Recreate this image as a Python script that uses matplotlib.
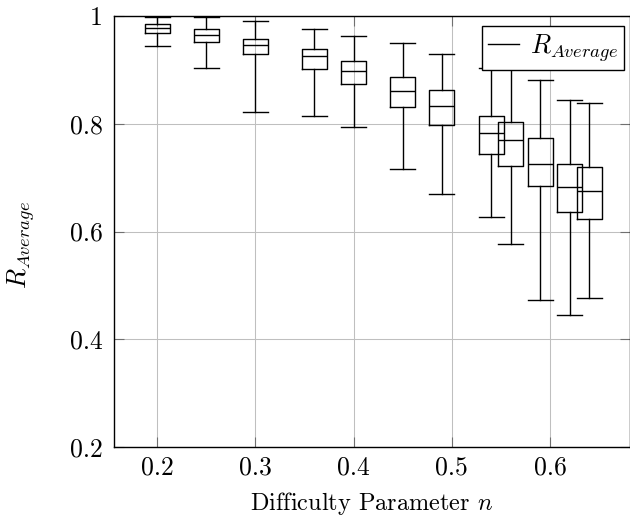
import matplotlib
matplotlib.use('Agg')

import matplotlib.pyplot as plt
from matplotlib.lines import Line2D

# box statistics
positions = [0.2, 0.25, 0.3, 0.36, 0.4, 0.45, 0.49, 0.54, 0.56, 0.59, 0.62, 0.64]
whishi = [0.998, 0.998, 0.991, 0.976, 0.963, 0.949, 0.929, 0.903, 0.925, 0.882, 0.845, 0.839]
q3 = [0.985, 0.975, 0.958, 0.939, 0.916, 0.886, 0.863, 0.815, 0.803, 0.773, 0.725, 0.720]
med = [0.978, 0.965, 0.947, 0.925, 0.897, 0.861, 0.833, 0.782, 0.770, 0.725, 0.682, 0.675]
q1 = [0.969, 0.952, 0.929, 0.901, 0.873, 0.832, 0.798, 0.743, 0.722, 0.684, 0.636, 0.623]
whislo = [0.944, 0.904, 0.822, 0.814, 0.794, 0.716, 0.670, 0.627, 0.576, 0.472, 0.445, 0.477]

xticks = [0.2, 0.3, 0.4, 0.5, 0.6]
xticklabels = ['0.2', '0.3', '0.4', '0.5', '0.6']
yticks = [0.2, 0.4, 0.6, 0.8, 1.0]
yticklabels = ['0.2', '0.4', '0.6', '0.8', '1']

plt.rcParams['font.family'] = 'serif'
plt.rcParams['font.serif'] = ['cmr10']
plt.rcParams['mathtext.fontset'] = 'cm'
plt.rcParams['axes.formatter.use_mathtext'] = True
plt.rcParams['font.size'] = 18.5

fig = plt.figure(figsize=(6.3, 5.17), dpi=100)
ax = fig.add_axes([114 / 630, 70 / 517, 515.5 / 630, 431 / 517])

stats = []
for lo, a, m, b, hi in zip(whislo, q1, med, q3, whishi):
    stats.append({'whislo': lo, 'q1': a, 'med': m, 'q3': b, 'whishi': hi, 'fliers': []})

line = dict(color='black', linewidth=1.0)
ax.bxp(stats, positions=positions, widths=0.0255, showfliers=False,
       boxprops=line, medianprops=line, whiskerprops=line, capprops=line,
       capwidths=0.0255, manage_ticks=False, zorder=3)

ax.set_xlim(0.156, 0.681)
ax.set_ylim(0.2, 1.0)
ax.set_xticks(xticks)
ax.set_xticklabels(xticklabels)
ax.set_yticks(yticks)
ax.set_yticklabels(yticklabels)

ax.grid(True, color='#bfbfbf', linewidth=0.75, zorder=0)
ax.set_axisbelow(True)
ax.tick_params(direction='in', length=7, width=0.8, color='#707070',
               top=True, right=True)
ax.tick_params(axis='x', pad=6)
ax.tick_params(axis='y', pad=8)
for s in ax.spines.values():
    s.set_linewidth(1.0)
    s.set_color('black')

ax.set_xlabel('Difficulty Parameter $n$', labelpad=8, fontsize=17.5)
ax.set_ylabel('$R_{Average}$', labelpad=0, fontsize=19)
ax.yaxis.set_label_coords(-0.15, 0.47)

handle = Line2D([], [], color='black', linewidth=1.0)
leg = ax.legend([handle], ['$R_{Average}$'], loc='upper right',
                bbox_to_anchor=(0.989, 0.977), borderaxespad=0,
                handlelength=1.2, handletextpad=0.4, borderpad=0.22,
                fancybox=False, framealpha=1, edgecolor='black',
                fontsize=19)
leg.get_frame().set_linewidth(1.0)

fig.savefig('out.png', dpi=100)
